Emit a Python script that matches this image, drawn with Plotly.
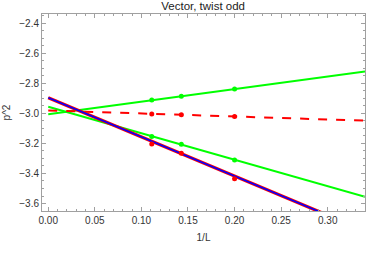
import plotly.graph_objects as go

# Data
L_inv = [1/9, 1/7, 1/5]

green_up_pts = [-2.91, -2.885, -2.837]
green_up_fit = [-3.005, 0.84]      # intercept, slope

red_dash_pts = [-3.003, -3.008, -3.02]
red_dash_fit = [-2.98, -0.20]

green_lo_pts = [-3.153, -3.205, -3.31]
green_lo_fit = [-2.955, -1.765]

red_pts = [-3.203, -3.265, -3.435]
red_fit = [-2.895, -2.61]
blue_fit = [-2.895, -2.61]

x_line = [0.0, 0.34]

def line(fit):
    return [fit[0] + fit[1] * x for x in x_line]

GREEN = "#00ff00"
RED = "#ff0000"
BLUE = "#0000ff"

fig = go.Figure()
fig.add_trace(go.Scatter(x=x_line, y=line(green_up_fit), mode="lines",
                         line=dict(color=GREEN, width=2)))
fig.add_trace(go.Scatter(x=x_line, y=line(green_lo_fit), mode="lines",
                         line=dict(color=GREEN, width=2)))
fig.add_trace(go.Scatter(x=x_line, y=line(red_dash_fit), mode="lines",
                         line=dict(color=RED, width=2, dash="dash")))
fig.add_trace(go.Scatter(x=x_line, y=line(red_fit), mode="lines",
                         line=dict(color=RED, width=3.2)))
fig.add_trace(go.Scatter(x=x_line, y=line(blue_fit), mode="lines",
                         line=dict(color=BLUE, width=1.6)))
fig.add_trace(go.Scatter(x=L_inv, y=green_up_pts, mode="markers",
                         marker=dict(color=GREEN, size=5)))
fig.add_trace(go.Scatter(x=L_inv, y=green_lo_pts, mode="markers",
                         marker=dict(color=GREEN, size=5)))
fig.add_trace(go.Scatter(x=L_inv, y=red_dash_pts, mode="markers",
                         marker=dict(color=RED, size=5)))
fig.add_trace(go.Scatter(x=L_inv, y=red_pts, mode="markers",
                         marker=dict(color=RED, size=5)))

axis_common = dict(
    showgrid=False, zeroline=False, showline=True, linecolor="#a0a0a0",
    linewidth=1, mirror="allticks", ticks="inside", tickcolor="#a0a0a0",
    ticklen=4, automargin=False,
    tickfont=dict(family="Liberation Sans, Arial", size=10, color="#333333"),
)

fig.update_layout(
    width=366, height=257,
    margin=dict(l=42, r=1, t=14, b=46),
    paper_bgcolor="white", plot_bgcolor="white",
    showlegend=False,
    title=dict(text="Vector, twist odd", x=0.555, xanchor="center", y=0.992, yanchor="top",
               font=dict(family="Liberation Sans, Arial", size=11.5, color="#222222")),
    font=dict(family="Liberation Sans, Arial", size=10, color="#333333"),
)
fig.update_xaxes(range=[-0.0067, 0.340], dtick=0.05, tick0=0, tickformat=".2f",
                 title=dict(text="1/L", font=dict(size=10), standoff=8),
                 minor=dict(dtick=0.01, ticks="inside", ticklen=2, tickcolor="#a0a0a0"),
                 **axis_common)
fig.update_yaxes(range=[-3.65, -2.337], dtick=0.2, tick0=-3.0, tickformat=".1f",
                 title=dict(text="p^2", font=dict(size=10), standoff=6),
                 minor=dict(dtick=0.05, ticks="inside", ticklen=2, tickcolor="#a0a0a0"),
                 **axis_common)

fig.write_html("out.html", config={"displayModeBar": False},
               post_script="document.body.style.margin='0px';")
